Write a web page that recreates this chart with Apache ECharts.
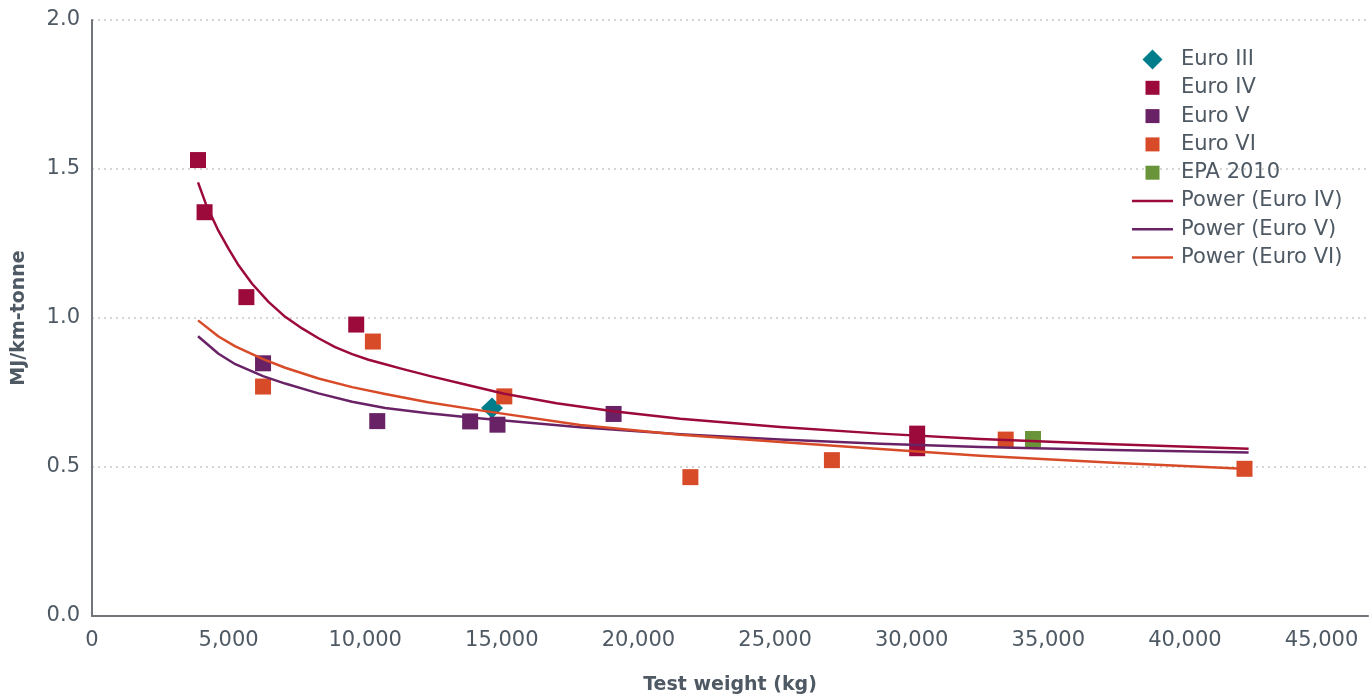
<!DOCTYPE html>
<html>
<head>
<meta charset="utf-8">
<title>Energy intensity vs test weight</title>
<script src="https://cdn.jsdelivr.net/npm/echarts@6/dist/echarts.min.js"></script>
<style>
  html, body { margin: 0; padding: 0; background: #ffffff; overflow: hidden; }
  #chart { width: 1370px; height: 700px; }
</style>
</head>
<body>
<div id="chart"></div>
<script>
// Measured points: [test weight (kg), MJ/km-tonne]
const euroIII = [[14640, 0.698]];
const euroIV = [[3880, 1.53], [4120, 1.355], [5650, 1.07], [9670, 0.978], [30200, 0.612], [30200, 0.563]];
const euroV = [[6260, 0.848], [10440, 0.654], [13840, 0.653], [14840, 0.642], [19090, 0.678]];
const euroVI = [[6260, 0.770], [10280, 0.921], [15090, 0.737], [21900, 0.466], [27080, 0.523], [33440, 0.592], [42180, 0.494]];
const epa2010 = [[34440, 0.594]];

// Power trend lines, sampled along each curve
const powerEuroIV = [[3880, 1.455], [4170, 1.382], [4630, 1.292], [5000, 1.232], [5370, 1.176], [5860, 1.115],
  [6460, 1.054], [7070, 1.004], [7690, 0.965], [8290, 0.932], [8900, 0.902], [9520, 0.879], [10120, 0.860],
  [10730, 0.845], [11280, 0.831], [12380, 0.805], [13700, 0.776], [15090, 0.746], [17000, 0.714], [19080, 0.687],
  [21530, 0.662], [25190, 0.634], [28850, 0.612], [32510, 0.594], [37380, 0.576], [42330, 0.561]];
const powerEuroV = [[3880, 0.939], [4630, 0.880], [5245, 0.845], [6260, 0.805], [7070, 0.780], [8290, 0.747],
  [9520, 0.719], [10730, 0.698], [12300, 0.680], [13840, 0.666], [17870, 0.633], [21530, 0.610], [25190, 0.592],
  [28850, 0.578], [32510, 0.567], [37380, 0.557], [42330, 0.549]];
const powerEuroVI = [[3880, 0.992], [4630, 0.938], [5245, 0.905], [6260, 0.862], [7070, 0.833], [8290, 0.797],
  [9520, 0.768], [10730, 0.745], [12300, 0.717], [14210, 0.690], [17870, 0.641], [21530, 0.608], [25190, 0.584],
  [28850, 0.560], [32510, 0.538], [37380, 0.514], [42330, 0.493]];

const colors = {
  euroIII: '#007d8b',
  euroIV: '#9c0a3b',
  euroV: '#692266',
  euroVI: '#d84b28',
  epa: '#6a9439'
};
const textColor = '#4e5964';
const fontFamily = 'DejaVu Sans';
// legend icons, each laid out inside the same 20px-high slot
const diamondIcon = 'path://M10,0L20,10L10,20L0,10Z';
const squareIcon = 'path://M0,0M20,20M3,3h14v14h-14z';
const lineIcon = 'path://M0,0h41v2.5h-41z';

function scatter(name, data, color, symbol, size) {
  return {
    name: name,
    type: 'scatter',
    data: data,
    symbol: symbol,
    symbolSize: size,
    itemStyle: { color: color, opacity: 1 },
    emphasis: { disabled: true }
  };
}

function trend(name, data, color) {
  return {
    name: name,
    type: 'line',
    data: data,
    smooth: false,
    showSymbol: false,
    symbol: 'none',
    lineStyle: { color: color, width: 2.5, join: 'round' },
    itemStyle: { color: color },
    emphasis: { disabled: true }
  };
}

const chart = echarts.init(document.getElementById('chart'), null, { width: 1370, height: 700 });
chart.setOption({
  animation: false,
  grid: { left: 92, top: 20, width: 1276, height: 599 },
  xAxis: {
    type: 'value',
    min: 0,
    max: 46700,
    interval: 5000,
    name: 'Test weight (kg)',
    nameLocation: 'middle',
    nameGap: 60,
    nameTextStyle: { fontFamily: fontFamily, fontSize: 19, fontWeight: 'bold', color: textColor },
    axisLine: { show: true, lineStyle: { color: '#717579', width: 2 } },
    axisTick: { show: false },
    splitLine: { show: false },
    axisLabel: {
      showMaxLabel: false,
      margin: 14,
      fontFamily: fontFamily,
      fontSize: 21,
      color: textColor,
      formatter: function (v) { return v.toLocaleString('en-US'); }
    }
  },
  yAxis: {
    type: 'value',
    min: 0,
    max: 2,
    interval: 0.5,
    name: 'MJ/km-tonne',
    nameLocation: 'middle',
    nameGap: 63,
    nameTextStyle: { fontFamily: fontFamily, fontSize: 19, fontWeight: 'bold', color: textColor },
    axisLine: { show: true, lineStyle: { color: '#717579', width: 2 } },
    axisTick: { show: false },
    splitLine: { show: true, lineStyle: { color: '#c8c8c8', width: 1.5, type: [2, 4] } },
    axisLabel: {
      margin: 12,
      fontFamily: fontFamily,
      fontSize: 21,
      color: textColor,
      formatter: function (v) { return v.toFixed(1); }
    }
  },
  legend: {
    orient: 'vertical',
    left: 1132,
    top: 49,
    padding: 0,
    itemWidth: 41,
    itemHeight: 20,
    itemGap: 7.3,
    selectedMode: false,
    textStyle: { fontFamily: fontFamily, fontSize: 21, color: textColor, padding: [0, 0, 0, 3] },
    data: [
      { name: 'Euro III', icon: diamondIcon },
      { name: 'Euro IV', icon: squareIcon },
      { name: 'Euro V', icon: squareIcon },
      { name: 'Euro VI', icon: squareIcon },
      { name: 'EPA 2010', icon: squareIcon },
      { name: 'Power (Euro IV)', icon: lineIcon },
      { name: 'Power (Euro V)', icon: lineIcon },
      { name: 'Power (Euro VI)', icon: lineIcon }
    ]
  },
  series: [
    scatter('Euro III', euroIII, colors.euroIII, 'diamond', [22, 21]),
    scatter('Euro IV', euroIV, colors.euroIV, 'rect', 16),
    scatter('Euro V', euroV, colors.euroV, 'rect', 16),
    scatter('Euro VI', euroVI, colors.euroVI, 'rect', 16),
    scatter('EPA 2010', epa2010, colors.epa, 'rect', 16),
    trend('Power (Euro IV)', powerEuroIV, colors.euroIV),
    trend('Power (Euro V)', powerEuroV, colors.euroV),
    trend('Power (Euro VI)', powerEuroVI, colors.euroVI)
  ]
});
</script>
</body>
</html>
